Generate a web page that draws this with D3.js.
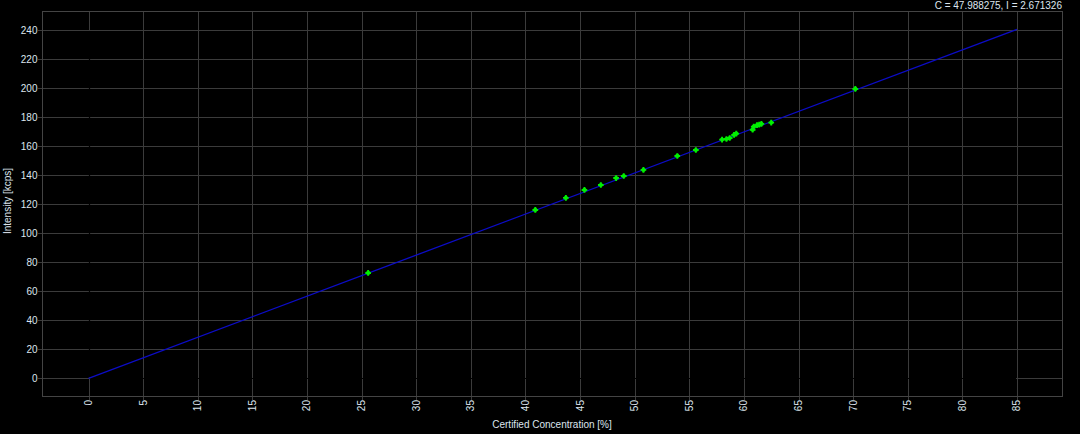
<!DOCTYPE html>
<html><head><meta charset="utf-8">
<script src="https://cdn.jsdelivr.net/npm/d3@7"></script>
<style>
html,body{margin:0;padding:0;background:#000;}
svg{display:block;}
text{font-family:"Liberation Sans",Arial,sans-serif;}
</style></head>
<body><svg id="chart" width="1080" height="434"></svg>
<script>
// Data
const concentration = [25.6, 40.9, 43.7, 45.4, 46.9, 48.3, 49.0, 50.8, 53.9, 55.6, 58.0, 58.4, 58.7, 59.1, 59.3, 60.8, 60.9, 61.2, 61.4, 61.6, 62.5, 70.2];
const intensity     = [72.6, 116.0, 124.3, 129.8, 133.2, 138.0, 139.4, 143.6, 153.2, 157.3, 164.5, 164.9, 165.6, 167.7, 168.6, 171.3, 173.4, 174.4, 174.8, 175.3, 176.2, 199.4];
const fitLineC = [0, 85];
const fitLineI = [0, 240.5];
const xTicks = [0, 5, 10, 15, 20, 25, 30, 35, 40, 45, 50, 55, 60, 65, 70, 75, 80, 85];
const yTicks = [0, 20, 40, 60, 80, 100, 120, 140, 160, 180, 200, 220, 240];
const xTitle = "Certified Concentration [%]";
const yTitle = "Intensity [kcps]";
const infoText = "C = 47.988275, I = 2.671326";

const svg = d3.select("#chart");
const L = 42, T = 11, R = 1062, B = 396;
const x = d3.scaleLinear().domain([-4.26, 89.12]).range([L, R]);
const y = d3.scaleLinear().domain([-12.2, 253.1]).range([B, T]);
const gridCol = "#3b3b3b", txtCol = "#dde5ee";

svg.append("rect").attr("width",1080).attr("height",434).attr("fill","#000");

// grid
const g = svg.append("g");
g.selectAll(".vx").data(xTicks).enter().append("line")
  .attr("x1",d=>Math.round(x(d))+0.5).attr("x2",d=>Math.round(x(d))+0.5)
  .attr("y1",T).attr("y2",B+4).attr("stroke",gridCol).attr("stroke-width",1);
g.selectAll(".hy").data(yTicks).enter().append("line")
  .attr("y1",d=>Math.round(y(d))+0.5).attr("y2",d=>Math.round(y(d))+0.5)
  .attr("x1",L-4).attr("x2",R).attr("stroke",gridCol).attr("stroke-width",1);

// black zero lines hiding grid inside data range
svg.append("line").attr("x1",Math.round(x(0))+0.5).attr("x2",Math.round(x(0))+0.5)
  .attr("y1",y(240)+1).attr("y2",y(0)-1).attr("stroke","#000").attr("stroke-width",1.2);
svg.append("line").attr("y1",Math.round(y(0))+0.5).attr("y2",Math.round(y(0))+0.5)
  .attr("x1",x(0)+1).attr("x2",x(85)-1).attr("stroke","#000").attr("stroke-width",1.2);

// border
svg.append("rect").attr("x",L+0.5).attr("y",T+0.5).attr("width",R-L).attr("height",B-T)
  .attr("fill","none").attr("stroke","#444").attr("stroke-width",1);

// axes labels
const xAxis = d3.axisBottom(x).tickValues(xTicks).tickSize(0).tickPadding(0);
const xa = svg.append("g").attr("transform",`translate(0,${B})`).call(xAxis);
xa.select(".domain").remove();
xa.selectAll("text").attr("fill",txtCol).attr("font-size",10)
  .attr("transform","rotate(-90)").attr("text-anchor","end")
  .attr("x",-4).attr("y",0).attr("dy","0.35em")
  .each(function(d){ d3.select(this).attr("transform",`translate(${x(d)},0) rotate(-90)`).attr("x",-4).attr("dx",0); });
xa.selectAll(".tick").attr("transform",null);

const yAxis = d3.axisLeft(y).tickValues(yTicks).tickSize(0).tickPadding(0);
const ya = svg.append("g").attr("transform",`translate(${L},0)`).call(yAxis);
ya.select(".domain").remove();
ya.selectAll("text").attr("fill",txtCol).attr("font-size",10).attr("x",-4.5).attr("dy","0.35em");

// titles
svg.append("text").attr("x",552).attr("y",428).attr("text-anchor","middle")
  .attr("fill",txtCol).attr("font-size",10).text(xTitle);
svg.append("text").attr("transform","translate(11,201) rotate(-90)").attr("text-anchor","middle")
  .attr("fill",txtCol).attr("font-size",10).text(yTitle);
svg.append("text").attr("x",R).attr("y",9).attr("text-anchor","end")
  .attr("fill",txtCol).attr("font-size",10).text(infoText);

// fit line
svg.append("line").attr("x1",x(fitLineC[0])).attr("y1",y(fitLineI[0]))
  .attr("x2",x(fitLineC[1])).attr("y2",y(fitLineI[1]))
  .attr("stroke","#0c0cc8").attr("stroke-width",1.3);

// points
const pts = concentration.map((c,i)=>({c, v:intensity[i]}));
const sym = d3.symbol().type(d3.symbolCross).size(18);
svg.append("g").selectAll("path").data(pts).enter().append("path")
  .attr("d",sym).attr("transform",d=>`translate(${x(d.c)},${y(d.v)})`)
  .attr("fill","#00f000");
svg.append("g").selectAll("circle").data(pts).enter().append("circle")
  .attr("cx",d=>x(d.c)).attr("cy",d=>y(d.v)).attr("r",2.1).attr("fill","#00f000");
</script></body></html>
